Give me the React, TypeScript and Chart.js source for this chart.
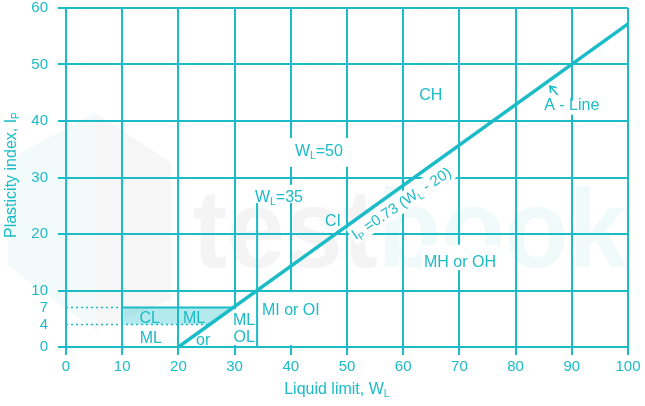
import React, { useEffect, useRef } from "react";
import { Chart, registerables } from "chart.js";
Chart.register(...registerables);

const FONT = "'Liberation Sans', Arial, Helvetica, sans-serif";
const TEAL = "#1bbcc7";
const BAND = "rgba(27,188,199,0.33)";

// axis ticks
const yTickValues = [0, 4, 7, 10, 20, 30, 40, 50, 60];
const xMin = 0;
const xMax = 100;
const xStep = 10;

// A-line: Ip = 0.73 (WL - 20), as drawn in the figure
const aLineWL = [20, 100];
const aLineIP = [0, 57.2];
// WL = 35 divider
const wl35X = [34, 34];
const wl35Y = [0, 25.5];
// CL-ML band
const bandTopX = [10, 29.8];
const bandTopY = [7, 7];
const dot7X = [0, 10];
const dot7Y = [7, 7];
const dot4X = [0, 25.6];
const dot4Y = [4, 4];
const bandX = [10, 10, 29.8, 25.6];
const bandY = [4, 7, 7, 4];

// zone labels (data coords)
const labelTexts = ["CH", "A - Line", "W_{L}=50", "W_{L}=35", "CI", "MH or OH", "MI or OI", "ML", "OL", "CL", "ML", "ML", "or"];
const labelX = [64.9, 90.0, 45.0, 37.9, 47.5, 70.1, 40.0, 31.7, 31.7, 14.9, 22.8, 15.1, 24.4];
const labelY = [44.8, 42.9, 34.9, 26.7, 22.5, 15.1, 6.7, 5.0, 1.9, 5.3, 5.3, 1.8, 1.4];

// white areas behind labels (data coords)
const maskX0 = [39.5, 32.7, 84.9, 63.3, 34.5, 29.0];
const maskX1 = [50.5, 43.4, 95.2, 76.9, 45.9, 33.8];
const maskY0 = [31.9, 25.5, 41.1, 13.6, 0.35, 0.35];
const maskY1 = [37.0, 28.7, 43.6, 18.1, 9.7, 6.7];

// equation label
const eqText = "I_{P} =0.73 (W_{L} - 20)";
const eqX = 59.6;
const eqY = 25.5;
const eqAngle = -34;

// arrow to A-line
const arrowX = [87.5, 86.1];
const arrowY = [44.6, 46.2];

const xTitle = "Liquid limit, W_{L}";
const yTitle = "Plasticity index, I_{P}";

type Seg = { t: string; sub: boolean };
function parseRich(s: string): Seg[] {
  const segs: Seg[] = [];
  const re = /_\{([^}]*)\}/g;
  let last = 0;
  let m: RegExpExecArray | null;
  while ((m = re.exec(s))) {
    if (m.index > last) segs.push({ t: s.slice(last, m.index), sub: false });
    segs.push({ t: m[1], sub: true });
    last = re.lastIndex;
  }
  if (last < s.length) segs.push({ t: s.slice(last), sub: false });
  return segs;
}
function richWidth(ctx: CanvasRenderingContext2D, segs: Seg[], size: number) {
  let w = 0;
  for (const s of segs) {
    ctx.font = `${s.sub ? size * 0.65 : size}px ${FONT}`;
    w += ctx.measureText(s.t).width;
  }
  return w;
}
function drawRich(ctx: CanvasRenderingContext2D, str: string, cx: number, cy: number, size: number, color: string) {
  const segs = parseRich(str);
  ctx.textAlign = "left";
  ctx.textBaseline = "alphabetic";
  ctx.fillStyle = color;
  const w = richWidth(ctx, segs, size);
  let x = cx - w / 2;
  const base = cy + size * 0.36;
  for (const s of segs) {
    ctx.font = `${s.sub ? size * 0.65 : size}px ${FONT}`;
    ctx.fillText(s.t, x, s.sub ? base + size * 0.22 : base);
    x += ctx.measureText(s.t).width;
  }
  return w;
}

const overlay = {
  id: "overlay",
  beforeDraw(chart: any) {
    const ctx: CanvasRenderingContext2D = chart.ctx;
    const a = chart.chartArea;
    const W = a.right - a.left;
    const H = a.bottom - a.top;
    const px = (f: number) => a.left + f * W;
    const py = (f: number) => a.top + f * H;
    ctx.save();
    // faint house logo
    ctx.fillStyle = "#f2fafa";
    ctx.beginPath();
    ctx.moveTo(8, py(0.448));
    ctx.lineTo(95, py(0.31));
    ctx.lineTo(95, py(0.95));
    ctx.lineTo(8, py(0.76));
    ctx.closePath();
    ctx.fill();
    ctx.fillStyle = "#f6f6f6";
    ctx.beginPath();
    ctx.moveTo(95, py(0.31));
    ctx.lineTo(171, py(0.456));
    ctx.lineTo(171, py(0.86));
    ctx.lineTo(95, py(0.95));
    ctx.closePath();
    ctx.fill();
    // faint watermark text
    ctx.font = `bold 112px ${FONT}`;
    ctx.textBaseline = "alphabetic";
    ctx.textAlign = "left";
    const w1 = ctx.measureText("test").width;
    const w2 = ctx.measureText("book").width;
    const target = px(0.997) - px(0.225);
    const sx = target / (w1 + w2);
    ctx.translate(px(0.225), py(0.765));
    ctx.scale(sx, 1);
    ctx.fillStyle = "#f4f4f4";
    ctx.fillText("test", 0, 0);
    ctx.fillStyle = "#f0fafb";
    ctx.fillText("book", w1, 0);
    ctx.restore();
  },
  beforeDatasetsDraw(chart: any) {
    const ctx: CanvasRenderingContext2D = chart.ctx;
    const xs = chart.scales.x;
    const ys = chart.scales.y;
    ctx.save();
    // white masks behind labels
    ctx.fillStyle = "#ffffff";
    for (let i = 0; i < maskX0.length; i++) {
      const x0 = xs.getPixelForValue(maskX0[i]);
      const x1 = xs.getPixelForValue(maskX1[i]);
      const y0 = ys.getPixelForValue(maskY1[i]);
      const y1 = ys.getPixelForValue(maskY0[i]);
      ctx.fillRect(x0, y0, x1 - x0, y1 - y0);
    }
    // band
    ctx.fillStyle = BAND;
    ctx.beginPath();
    bandX.forEach((v, i) => {
      const X = xs.getPixelForValue(v) + (i === 0 || i === 1 ? 1 : 0);
      const Y = ys.getPixelForValue(bandY[i]);
      if (i === 0) ctx.moveTo(X, Y);
      else ctx.lineTo(X, Y);
    });
    ctx.closePath();
    ctx.fill();
    // labels
    for (let i = 0; i < labelTexts.length; i++) {
      drawRich(ctx, labelTexts[i], xs.getPixelForValue(labelX[i]), ys.getPixelForValue(labelY[i]), 16, TEAL);
    }
    // equation
    ctx.translate(xs.getPixelForValue(eqX), ys.getPixelForValue(eqY));
    ctx.rotate((eqAngle * Math.PI) / 180);
    const segs = parseRich(eqText);
    const w = richWidth(ctx, segs, 15);
    ctx.fillStyle = "#ffffff";
    ctx.fillRect(-w / 2 - 2, -9, w + 4, 19);
    drawRich(ctx, eqText, 0, 0, 15, TEAL);
    ctx.restore();
  },
  afterDatasetsDraw(chart: any) {
    const ctx: CanvasRenderingContext2D = chart.ctx;
    const xs = chart.scales.x;
    const ys = chart.scales.y;
    const x0 = xs.getPixelForValue(arrowX[0]);
    const y0 = ys.getPixelForValue(arrowY[0]);
    const x1 = xs.getPixelForValue(arrowX[1]);
    const y1 = ys.getPixelForValue(arrowY[1]);
    ctx.save();
    ctx.strokeStyle = TEAL;
    ctx.lineWidth = 1.6;
    ctx.beginPath();
    ctx.moveTo(x0, y0);
    ctx.lineTo(x1, y1);
    const ang = Math.atan2(y1 - y0, x1 - x0);
    const L = 7;
    ctx.moveTo(x1 - L * Math.cos(ang - 0.6), y1 - L * Math.sin(ang - 0.6));
    ctx.lineTo(x1, y1);
    ctx.lineTo(x1 - L * Math.cos(ang + 0.6), y1 - L * Math.sin(ang + 0.6));
    ctx.stroke();
    ctx.restore();
  },
  afterDraw(chart: any) {
    const ctx: CanvasRenderingContext2D = chart.ctx;
    const a = chart.chartArea;
    ctx.save();
    drawRich(ctx, xTitle, a.left + (a.right - a.left) * 0.482, 388, 16, TEAL);
    ctx.translate(10, 175);
    ctx.rotate(-Math.PI / 2);
    drawRich(ctx, yTitle, 0, 0, 16, TEAL);
    ctx.restore();
  },
};

function pts(xa: number[], ya: number[]) {
  return xa.map((x, i) => ({ x, y: ya[i] }));
}

export default function App() {
  const ref = useRef<HTMLCanvasElement | null>(null);
  useEffect(() => {
    if (!ref.current) return;
    const common = { showLine: true, pointRadius: 0, borderColor: TEAL, fill: false };
    const chart = new Chart(ref.current, {
      type: "scatter",
      data: {
        datasets: [
          { ...common, data: pts(aLineWL, aLineIP), borderWidth: 3.5 },
          { ...common, data: pts(wl35X, wl35Y), borderWidth: 2 },
          { ...common, data: pts(bandTopX, bandTopY), borderWidth: 2 },
          { ...common, data: pts(dot7X, dot7Y), borderWidth: 1.5, borderDash: [2, 3] },
          { ...common, data: pts(dot4X, dot4Y), borderWidth: 1.5, borderDash: [2, 3] },
        ] as any,
      },
      options: {
        animation: false,
        responsive: false,
        devicePixelRatio: 1,
        layout: { padding: { top: 8, right: 17, left: 0, bottom: 0 } },
        plugins: { legend: { display: false }, tooltip: { enabled: false } },
        scales: {
          x: {
            type: "linear",
            min: xMin,
            max: xMax,
            ticks: { stepSize: xStep, color: TEAL, font: { size: 15, family: FONT }, padding: 3 },
            grid: { color: TEAL, lineWidth: 2, tickLength: 8 },
            border: { color: TEAL, width: 2 },
            afterFit: (s: any) => {
              s.height = 59;
              s.paddingLeft = 0;
              s.paddingRight = 0;
            },
          },
          y: {
            type: "linear",
            min: 0,
            max: 60,
            afterBuildTicks: (s: any) => {
              s.ticks = yTickValues.map((v) => ({ value: v }));
            },
            ticks: { color: TEAL, font: { size: 15, family: FONT, lineHeight: 1 }, padding: 10, autoSkip: false },
            grid: {
              color: (c: any) => (c.tick && (c.tick.value === 4 || c.tick.value === 7) ? "rgba(0,0,0,0)" : TEAL),
              lineWidth: 2,
              tickLength: 8,
            },
            border: { color: TEAL, width: 2 },
            afterFit: (s: any) => {
              s.width = 66;
              s.paddingTop = 0;
              s.paddingBottom = 0;
            },
          },
        },
      } as any,
      plugins: [overlay as any],
    });
    return () => chart.destroy();
  }, []);
  return (
    <div style={{ position: "absolute", left: 0, top: 0, width: 645, height: 406, background: "#fff" }}>
      <canvas ref={ref} width={645} height={406} style={{ display: "block" }} />
    </div>
  );
}
